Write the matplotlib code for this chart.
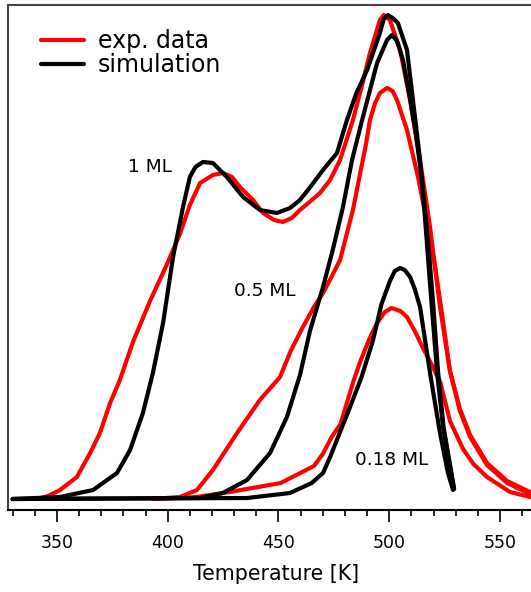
import matplotlib
matplotlib.use("Agg")
import matplotlib.pyplot as plt
from matplotlib.ticker import MultipleLocator

# --- data (temperature in K, intensity in arb. units) ---
t_1ml_exp = [341, 346, 351.4, 359, 365, 369.4, 374, 378.4, 384.3, 392, 399.7, 405.5, 410,
             414.6, 420.4, 425, 429, 432.6, 438.5, 443, 448, 452, 456, 459.7, 464, 468.7,
             473.3, 477.8, 483.6, 487.5, 491.3, 495.8, 497.5, 500.3, 504.9, 509.4, 513.9,
             518.4, 522.9, 527.4, 531.9, 536.5, 544.1, 553.2, 563.5]
i_1ml_exp = [0, 3, 9, 22, 46, 66, 96, 119, 157, 198, 235, 265, 294,
             316, 324, 326, 322, 312, 299, 286, 279, 277, 281, 289, 297, 306,
             319, 339, 379, 412, 446, 479, 484, 479, 449, 399, 339,
             272, 192, 128, 90, 64, 36, 18, 7]

t_05ml_exp = [393, 405.5, 413.2, 420.4, 431.3, 441.6, 450.7, 455.5, 461, 466, 470.1, 474.6,
              477.8, 483.6, 486.8, 489.5, 491.3, 493.6, 495.8, 499, 501.5, 503.5, 508, 513,
              517, 520.5, 523.5, 527.4, 531.9, 536.5, 544.1, 553.2, 563.5]
i_05ml_exp = [0, 2, 9, 29, 66, 99, 122, 148, 172, 192, 206, 225,
              239, 289, 325, 355, 379, 396, 406, 411, 408, 399, 369, 322,
              277, 235, 190, 128, 88, 62, 34, 16, 5]

t_018ml_exp = [395, 413, 428, 451, 466, 470, 474, 478, 484, 487, 491, 494.5, 498, 501, 505,
               508, 511.5, 515, 519, 523, 527.4, 533.3, 538, 544.1, 554.5, 563.5]
i_018ml_exp = [0, 2, 7, 16, 33, 45, 62, 75, 119, 138, 160, 176, 187, 191, 188,
               182, 168, 152, 135, 117, 78, 50, 35, 22, 7, 2]

t_1ml_sim = [330, 351.4, 366.3, 377.1, 383, 388.8, 393.3, 397.9, 402.4, 406.9, 410, 412.5,
             415.9, 420.4, 426.7, 434, 441.6, 449.3, 455.2, 459.7, 464, 470.1, 476.4, 480.9,
             485, 490, 495.8, 497.5, 499.4, 501.5, 503.9, 508, 510.7, 513.9, 516.1, 518.4,
             521.6, 524.3, 527.4, 529.2]
i_1ml_sim = [0, 2, 9, 26, 49, 86, 126, 176, 242, 292, 322, 332,
             337, 336, 322, 302, 289, 286, 291, 299, 311, 329, 346, 379,
             405, 429, 466, 480, 484, 481, 476, 449, 399, 339, 282, 215,
             126, 72, 32, 10]

t_05ml_sim = [330, 414.6, 424.9, 435.8, 446.2, 453.8, 459.7, 464.2, 470.1, 474.6, 479.1,
              483.2, 488.1, 494.5, 499, 501.2, 503.5, 506.2, 509.4, 512, 515, 518, 520,
              522, 524.5, 527.6, 529.3]
i_05ml_sim = [0, 1, 6, 19, 46, 82, 124, 168, 212, 250, 292,
              339, 382, 436, 459, 464, 458, 439, 400, 365, 315, 245, 190,
              128, 72, 32, 10]

t_018ml_sim = [330, 435.8, 455.2, 465, 470.1, 473.3, 482.3, 487.5, 492.7, 496.5, 500.3,
               502.5, 504.9, 507, 509.4, 511.5, 513.9, 518.4, 522.9, 526.5, 528.8]
i_018ml_sim = [0, 1, 6, 16, 26, 42, 92, 122, 159, 195, 218,
               228, 231, 229, 222, 210, 192, 126, 66, 26, 9]

coverage_labels = ["1 ML", "0.5 ML", "0.18 ML"]
label_pos = [(391.8, 332), (443.9, 208), (501.0, 39)]

plt.rcParams['font.family'] = ['DejaVu Sans']

fig = plt.figure(figsize=(5.31, 5.92), dpi=100)
ax = fig.add_axes([8 / 531, 82 / 592, 537 / 531, 505 / 592])

red = '#ff0000'
lw = 3.0
style = dict(lw=lw, solid_joinstyle='round', solid_capstyle='round')
ax.plot(t_1ml_exp, i_1ml_exp, color=red, label='exp. data', **style)
ax.plot(t_05ml_exp, i_05ml_exp, color=red, **style)
ax.plot(t_018ml_exp, i_018ml_exp, color=red, **style)
ax.plot(t_1ml_sim, i_1ml_sim, color='black', label='simulation', **style)
ax.plot(t_05ml_sim, i_05ml_sim, color='black', **style)
ax.plot(t_018ml_sim, i_018ml_sim, color='black', **style)

for txt, (tx, ty) in zip(coverage_labels, label_pos):
    ax.text(tx, ty, txt, fontsize=13.3, ha='center', va='center')

ax.set_xlim(327.9, 570.3)
ax.set_ylim(-11, 494)

ax.xaxis.set_major_locator(MultipleLocator(50))
ax.xaxis.set_minor_locator(MultipleLocator(10))
ax.tick_params(axis='x', which='major', direction='out', length=8.6, width=1.2,
               labelsize=12.5, pad=9)
ax.tick_params(axis='x', which='minor', direction='out', length=4.3, width=1.2)
ax.set_yticks([])
ax.set_xlabel('Temperature [K]', fontsize=14.8, labelpad=8)

for side in ['top', 'left', 'bottom']:
    ax.spines[side].set_linewidth(1.5)
ax.spines['top'].set_color('#444444')
ax.spines['left'].set_color('#444444')
ax.spines['right'].set_visible(False)

ax.legend(loc='upper left', bbox_to_anchor=(0.0615, 0.952), frameon=False,
          fontsize=17, handlelength=1.8, handletextpad=0.6, labelspacing=0.0,
          borderpad=0, borderaxespad=0)

fig.savefig('out.png', dpi=100)
